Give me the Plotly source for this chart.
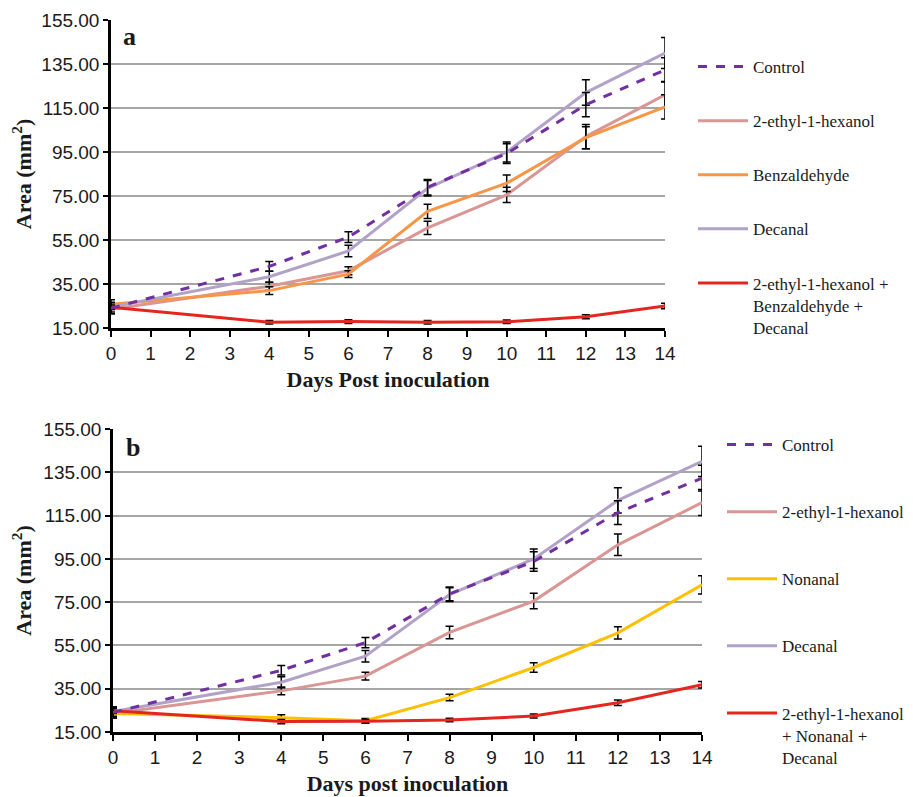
import plotly.graph_objects as go

days = [0, 4, 6, 8, 10, 12, 14]
x_ticks = list(range(0, 15))
y_ticks = [15, 35, 55, 75, 95, 115, 135, 155]
y_tick_text = ["15.00", "35.00", "55.00", "75.00", "95.00", "115.00", "135.00", "155.00"]

# Panel a
control = [24.0, 43.0, 56.3, 79.0, 94.3, 116.5, 132.3]
control_err = [2.5, 2.2, 2.4, 3.5, 4.5, 5.5, 5.5]
hexanol = [23.5, 34.0, 41.0, 60.5, 75.5, 102.0, 121.0]
hexanol_err = [2.0, 1.8, 1.8, 3.0, 3.5, 5.5, 6.0]
benzaldehyde = [25.8, 32.0, 39.5, 68.0, 80.8, 101.5, 115.5]
benzaldehyde_err = [2.0, 1.8, 1.5, 3.2, 3.8, 5.0, 5.5]
decanal = [24.5, 38.3, 50.0, 78.5, 95.0, 122.0, 140.0]
decanal_err = [2.2, 2.5, 2.6, 3.5, 4.5, 5.8, 7.0]
combo_a = [24.4, 17.6, 17.9, 17.6, 17.8, 20.1, 25.0]
combo_a_err = [1.0, 0.8, 0.8, 0.8, 0.8, 0.9, 1.2]

# Panel b
control_b = [24.0, 43.5, 56.3, 78.8, 93.8, 116.4, 132.3]
control_b_err = [2.5, 2.2, 2.4, 3.2, 4.5, 5.5, 6.0]
hexanol_b = [23.5, 34.0, 40.8, 61.0, 75.5, 101.5, 121.0]
hexanol_b_err = [2.0, 1.8, 1.8, 2.9, 3.6, 5.0, 6.0]
nonanal = [23.6, 21.6, 20.2, 30.9, 44.8, 60.8, 83.0]
nonanal_err = [1.5, 1.4, 1.0, 1.5, 2.2, 2.8, 4.2]
decanal_b = [24.5, 38.0, 50.0, 78.5, 95.0, 122.0, 140.0]
decanal_b_err = [2.2, 2.5, 2.6, 3.2, 4.5, 5.8, 7.0]
combo_b = [24.8, 19.8, 20.0, 20.5, 22.4, 28.5, 36.8]
combo_b_err = [1.2, 1.0, 0.8, 0.8, 0.9, 1.3, 1.5]

names_a = ["Control", "2-ethyl-1-hexanol", "Benzaldehyde", "Decanal",
           "2-ethyl-1-hexanol +<br>Benzaldehyde +<br>Decanal"]
names_b = ["Control", "2-ethyl-1-hexanol", "Nonanal", "Decanal",
           "2-ethyl-1-hexanol<br>+ Nonanal +<br>Decanal"]

C_CONTROL = "#7030A0"
C_HEX = "#D99694"
C_BENZ = "#F79646"
C_DEC = "#B3A2C7"
C_COMBO = "#E3261F"
C_NON = "#FFC000"

fig = go.Figure()

def add(y, err, name, color, xa, ya, leg, rank, dash="solid"):
    fig.add_trace(go.Scatter(
        x=days, y=y, name=name, mode="lines",
        line=dict(color=color, width=3, dash=dash),
        error_y=dict(type="data", array=err, visible=True, color="black",
                     thickness=1.5, width=4),
        xaxis=xa, yaxis=ya, legend=leg, legendrank=rank,
        legendgroup=leg + name,
    ))

# draw order: control last so it sits on top
add(hexanol, hexanol_err, names_a[1], C_HEX, "x", "y", "legend", 2)
add(benzaldehyde, benzaldehyde_err, names_a[2], C_BENZ, "x", "y", "legend", 3)
add(decanal, decanal_err, names_a[3], C_DEC, "x", "y", "legend", 4)
add(combo_a, combo_a_err, names_a[4], C_COMBO, "x", "y", "legend", 5)
add(control, control_err, names_a[0], C_CONTROL, "x", "y", "legend", 1, "dash")

add(hexanol_b, hexanol_b_err, names_b[1], C_HEX, "x2", "y2", "legend2", 2)
add(nonanal, nonanal_err, names_b[2], C_NON, "x2", "y2", "legend2", 3)
add(decanal_b, decanal_b_err, names_b[3], C_DEC, "x2", "y2", "legend2", 4)
add(combo_b, combo_b_err, names_b[4], C_COMBO, "x2", "y2", "legend2", 5)
add(control_b, control_b_err, names_b[0], C_CONTROL, "x2", "y2", "legend2", 1, "dash")

# page body has an 8px margin: the figure is sized / positioned to compensate
OFF = 8
W, H = 913 - OFF, 797 - OFF
SERIF = "Liberation Serif"
tick_font = dict(family="Liberation Sans", size=19, color="#1a1a1a")
title_font = dict(family=SERIF, size=22, color="#1a1a1a")
leg_font = dict(family=SERIF, size=17, color="#1a1a1a")

def px_x(p):
    return (p - OFF) / W

def px_y(p):
    return 1 - (p - OFF) / H

def xaxis(domain, anchor, title):
    return dict(domain=domain, anchor=anchor, range=[0, 14], tickmode="array",
                tickvals=x_ticks, ticks="outside", ticklen=6, tickwidth=1.5,
                tickcolor="black", showline=True, linecolor="black", linewidth=2.5,
                showgrid=False, zeroline=False, tickfont=tick_font,
                title=dict(text="<b>" + title + "</b>", font=title_font, standoff=10))

def yaxis(domain, anchor):
    return dict(domain=domain, anchor=anchor, range=[15, 155], tickmode="array",
                tickvals=y_ticks, ticktext=y_tick_text, ticks="outside", ticklen=5,
                tickwidth=1.5, tickcolor="black", showline=True, linecolor="black",
                linewidth=2.5, showgrid=True, gridcolor="#A6A6A6", gridwidth=1.5,
                zeroline=False, tickfont=tick_font,
                title=dict(text="<b>Area (mm<sup>2</sup>)</b>", font=title_font, standoff=6))

fig.update_layout(
    width=W, height=H,
    font=dict(family=SERIF, size=17, color="#1a1a1a"),
    margin=dict(l=0, r=0, t=0, b=0, autoexpand=False),
    paper_bgcolor="white", plot_bgcolor="white",
    xaxis=xaxis([px_x(111), px_x(665)], "y", "Days Post inoculation"),
    yaxis=yaxis([px_y(328), px_y(20)], "x"),
    xaxis2=xaxis([px_x(113), px_x(702)], "y2", "Days post inoculation"),
    yaxis2=yaxis([px_y(732), px_y(429)], "x2"),
    legend=dict(x=px_x(693), y=px_y(49), xanchor="left", yanchor="top",
                font=leg_font, tracegroupgap=29, valign="top", itemwidth=50,
                bgcolor="rgba(0,0,0,0)"),
    legend2=dict(x=px_x(722), y=px_y(427), xanchor="left", yanchor="top",
                 font=leg_font, tracegroupgap=42, valign="top", itemwidth=50,
                 bgcolor="rgba(0,0,0,0)"),
    showlegend=True,
    annotations=[
        dict(text="<b>a</b>", xref="x domain", yref="y domain", x=0.018, y=0.945,
             xanchor="left", yanchor="middle", showarrow=False,
             font=dict(family=SERIF, size=26, color="#1a1a1a")),
        dict(text="<b>b</b>", xref="x2 domain", yref="y2 domain", x=0.018, y=0.94,
             xanchor="left", yanchor="middle", showarrow=False,
             font=dict(family=SERIF, size=26, color="#1a1a1a")),
    ],
)

fig.write_html("out.html")
